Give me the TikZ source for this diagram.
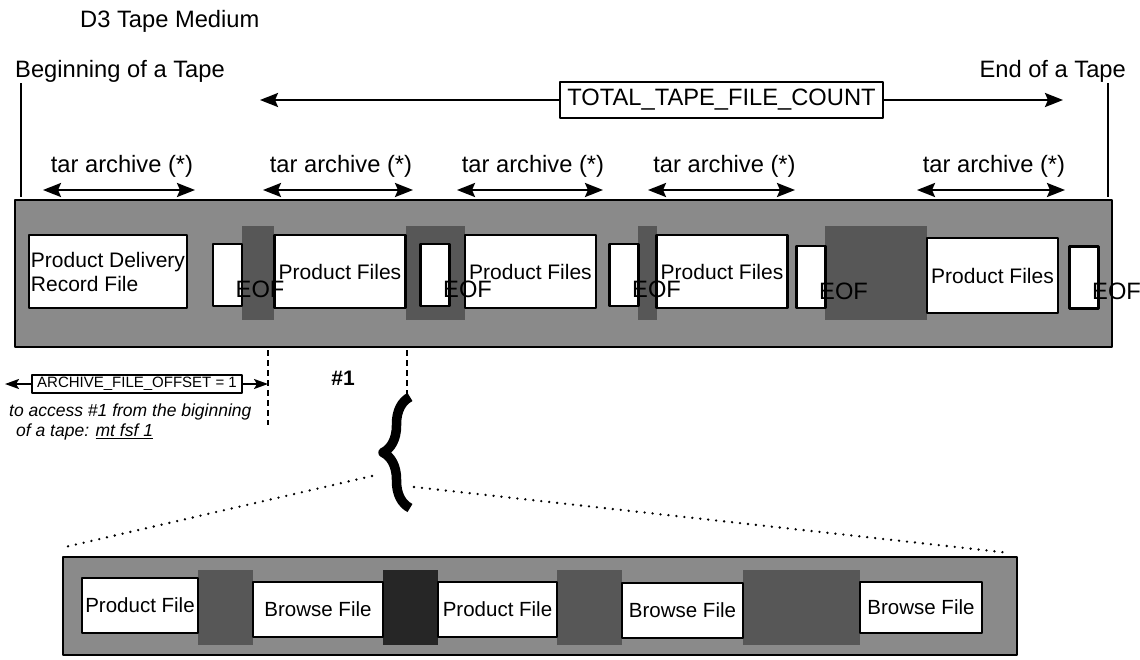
\documentclass[tikz,border=0pt]{standalone}
\usepackage{fontspec}
\setmainfont{Liberation Sans}
\usetikzlibrary{arrows.meta,decorations.pathreplacing,positioning}
\definecolor{tape}{HTML}{8A8A8A}
\definecolor{tapedark}{HTML}{575757}
\definecolor{tapeblack}{HTML}{262626}
\newcommand{\labfont}{\fontsize{23.7}{25}\selectfont}
\newcommand{\boxfont}{\fontsize{21}{24}\selectfont}
\newcommand{\smallfont}{\fontsize{15}{17}\selectfont}
\newcommand{\notefont}{\fontsize{17.5}{20}\selectfont\itshape}
\tikzset{
  filebox/.style={draw=black, fill=white, line width=2.5pt, inner sep=1pt, font=\boxfont, minimum height=73pt},
  eofbox/.style={draw=black, fill=white, line width=2.5pt, minimum width=29pt, minimum height=62pt, inner sep=0pt},
  spanarrow/.style={{Stealth[length=18pt,width=14pt,inset=3pt]}-{Stealth[length=18pt,width=14pt,inset=3pt]}, line width=2.5pt},
  onearrow/.style={-{Stealth[length=18pt,width=14pt,inset=3pt]}, line width=2.5pt},
  smallarrow/.style={-{Stealth[length=14pt,width=10pt,inset=3pt]}, line width=2pt},
  cutline/.style={line width=2pt, dash pattern=on 6pt off 4pt, line cap=butt},
  dotline/.style={line width=2.6pt, dash pattern=on 0pt off 8pt, line cap=round}
}

\begin{document}
\begin{tikzpicture}[x=1pt, y=-1pt, line join=round]
\useasboundingbox (0,0) rectangle (1140,659);

% ---------------- titles ----------------
\node[font=\labfont, anchor=base west, inner sep=0pt] (title) at (80,27) {D3 Tape Medium};
\node[font=\labfont, anchor=base west, inner sep=0pt] (bot) at (15,77) {Beginning of a Tape};
\node[font=\labfont, anchor=base east, inner sep=0pt] (eot) at (1126,77) {End of a Tape};
\coordinate (botA) at (21,83);  \coordinate (botB) at (21,197);
\coordinate (eotA) at (1108,83); \coordinate (eotB) at (1108,197);
\draw[line width=2.5pt] (botA) -- (botB);
\draw[line width=2.5pt] (eotA) -- (eotB);

% ---------------- total file count ----------------
\node[draw, line width=2pt, font=\labfont, minimum width=323pt, minimum height=36pt, inner sep=2pt] (total) at (721.5,100) {TOTAL\_TAPE\_FILE\_COUNT};
\coordinate (totL) at (260,100);
\coordinate (totR) at (1063,100);
\draw[onearrow] (total) -- (totL);
\draw[onearrow] (total) -- (totR);

% ---------------- tar archive spans ----------------
\foreach \n/\xa/\xb in {1/43/195, 2/263/413, 3/457/603, 4/648/795, 5/917/1065}{
  \coordinate (ta\n) at (\xa,190);
  \coordinate (tb\n) at (\xb,190);
  \draw[spanarrow] (ta\n) -- (tb\n);
  \node[font=\labfont, anchor=base, inner sep=0pt] (tl\n) at ({(\xa+\xb)/2+3},172) {tar archive (*)};
}

% ================= tape band =================
\fill[tape] (15,200) rectangle (1112,347);
\foreach \xa/\xb in {242/274, 406/465, 638/657, 825/927}
  \fill[tapedark] (\xa,226) rectangle (\xb,320);
\draw[line width=2.5pt] (15,200) rectangle (1112,347);

\node[filebox, minimum width=158pt, align=left] (pdr) at (108,271.5) {Product Delivery\\Record File};
\foreach \n/\x in {1/340, 2/530.5, 3/722}
  \node[filebox, minimum width=131pt] (pf\n) at (\x,271.5) {Product Files};
\node[filebox, minimum width=131pt, minimum height=75pt] (pf4) at (992.5,275.5) {Product Files};

\foreach \n/\x/\y in {1/227.5/275, 2/435/275, 3/624/275, 4/811/277, 5/1084/277.5}{
  \node[eofbox] (eof\n) at (\x,\y) {};
  \node[font=\labfont, anchor=west, inner sep=0pt] (eoft\n) at ([xshift=8pt,yshift=-14pt]eof\n.center) {EOF};
}

% ---------------- file #1 markers ----------------
\coordinate (cutLA) at (268,350); \coordinate (cutLB) at (268,425);
\coordinate (cutRA) at (407,350); \coordinate (cutRB) at (407,395);
\draw[cutline] (cutLA) -- (cutLB);
\draw[cutline] (cutRA) -- (cutRB);
\node[font=\bfseries\fontsize{21}{23}\selectfont] (num) at (343,378) {\#1};

\node[draw, line width=2pt, font=\smallfont, minimum width=210pt, minimum height=18pt, inner sep=1pt] (offset) at (137,384) {ARCHIVE\_FILE\_OFFSET = 1};
\coordinate (offL) at (5,384);
\coordinate (offR) at (268,384);
\draw[smallarrow] (offset) -- (offL);
\draw[smallarrow] (offset) -- (offR);

\node[font=\notefont, anchor=west, align=left, inner sep=0pt] (note) at (9,422)
  {to access \#1 from the biginning\\\hspace*{0.4em}of a tape: \underline{mt fsf 1}};

% ---------------- brace and zoom lines ----------------
\coordinate (brB) at (410,508);
\coordinate (brT) at (410,397);
\draw[decorate, decoration={brace, amplitude=27pt}, line width=9.5pt] (brB) -- (brT);
\coordinate (zlA) at (372,476); \coordinate (zlB) at (65,547);
\coordinate (zrA) at (414,487); \coordinate (zrB) at (1010,553);
\draw[dotline] (zlA) -- (zlB);
\draw[dotline] (zrA) -- (zrB);

% ================= inner band of #1 =================
\fill[tape] (63,557) rectangle (1017,655);
\foreach \xa/\xb/\c in {198/253/tapedark, 383/438/tapeblack, 557/622/tapedark, 743/860/tapedark}
  \fill[\c] (\xa,570) rectangle (\xb,645);
\draw[line width=2.5pt] (63,557) rectangle (1017,655);

\node[filebox, font=\fontsize{20.5}{23}\selectfont, minimum width=116pt, minimum height=55pt] (prod1) at (140,605.5) {Product File};
\node[filebox, font=\fontsize{20.5}{23}\selectfont, minimum width=130pt, minimum height=55pt] (brw1) at (318,609.5) {Browse File};
\node[filebox, font=\fontsize{20.5}{23}\selectfont, minimum width=119pt, minimum height=55pt] (prod2) at (497.5,609.5) {Product File};
\node[filebox, font=\fontsize{20.5}{23}\selectfont, minimum width=121pt, minimum height=55pt] (brw2) at (682.5,610.5) {Browse File};
\node[filebox, font=\fontsize{20.5}{23}\selectfont, minimum width=122pt, minimum height=51pt] (brw3) at (921,607.5) {Browse File};

\end{tikzpicture}
\end{document}
